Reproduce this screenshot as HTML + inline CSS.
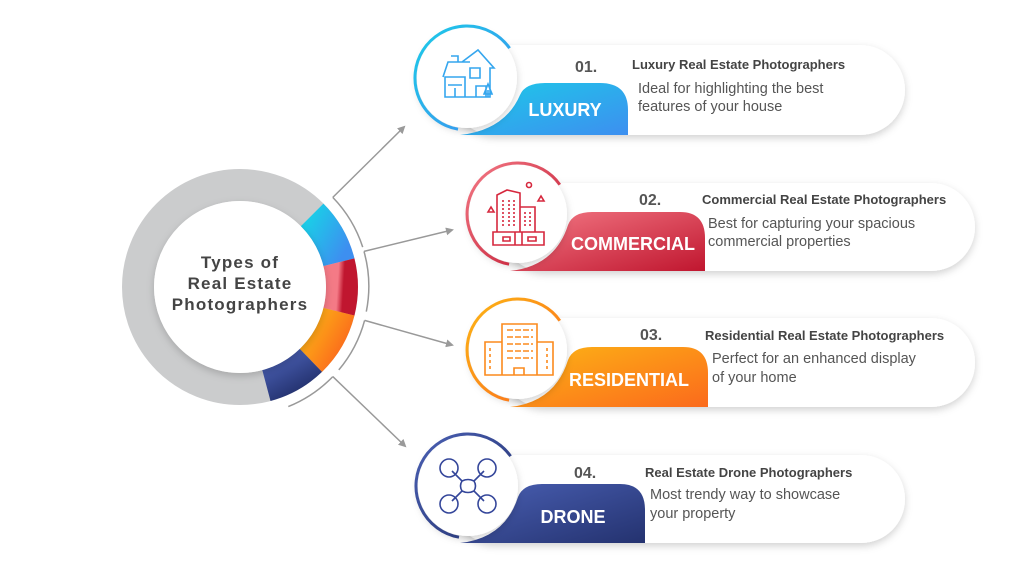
<!DOCTYPE html>
<html><head><meta charset="utf-8"><style>
html,body{margin:0;padding:0;background:#fff;width:1024px;height:576px;overflow:hidden}
svg{display:block}
text{font-family:"Liberation Sans",sans-serif}
</style></head><body>
<svg width="1024" height="576" viewBox="0 0 1024 576" xmlns="http://www.w3.org/2000/svg">
<defs>
<linearGradient id="gc" x1="0" y1="0" x2="1" y2="1"><stop offset="0" stop-color="#1ccbe8"/><stop offset="1" stop-color="#3d8ff0"/></linearGradient>
<linearGradient id="gr" x1="0" y1="0" x2="1" y2="1"><stop offset="0" stop-color="#f47a86"/><stop offset="1" stop-color="#c0162f"/></linearGradient>
<linearGradient id="go" x1="0" y1="0" x2="1" y2="1"><stop offset="0" stop-color="#fdb515"/><stop offset="1" stop-color="#fb6a1c"/></linearGradient>
<linearGradient id="gn" x1="0" y1="0" x2="1" y2="1"><stop offset="0" stop-color="#4a60b4"/><stop offset="1" stop-color="#24326f"/></linearGradient>
<filter id="sh" x="-20%" y="-30%" width="140%" height="170%"><feDropShadow dx="0" dy="3" stdDeviation="4" flood-color="#000" flood-opacity="0.18"/></filter>
<marker id="ar" markerWidth="8" markerHeight="8" refX="6" refY="4" orient="auto" markerUnits="userSpaceOnUse"><path d="M0,0 L8,4 L0,8 z" fill="#9a9a9a"/></marker>
</defs>

<!-- ring -->
<circle cx="240" cy="287" r="102" fill="none" stroke="#cbcccd" stroke-width="32"/>
<g fill="none" stroke-width="32">
<path d="M312.1,214.9 A102,102 0 0 1 338.9,262.3" stroke="url(#gc)"/>
<path d="M338.9,262.3 A102,102 0 0 1 338.9,311.7" stroke="url(#gr)"/>
<path d="M338.9,311.7 A102,102 0 0 1 310.9,360.4" stroke="url(#go)"/>
<path d="M310.9,360.4 A102,102 0 0 1 266.4,385.5" stroke="url(#gn)"/>
</g>
<circle cx="240" cy="287" r="86" fill="#fff" filter="url(#sh)"/>
<text x="240" y="268" text-anchor="middle" font-size="17" font-weight="bold" fill="#444" letter-spacing="1.2">Types of</text>
<text x="240" y="289" text-anchor="middle" font-size="17" font-weight="bold" fill="#444" letter-spacing="1.2">Real Estate</text>
<text x="240" y="310" text-anchor="middle" font-size="17" font-weight="bold" fill="#444" letter-spacing="1.2">Photographers</text>

<!-- outer arcs -->
<g fill="none" stroke="#999" stroke-width="1.5">
<path d="M332.8,197.4 A129,129 0 0 1 362.7,247.1"/>
<path d="M364,251.4 A129,129 0 0 1 366.3,311.6"/>
<path d="M364.6,320.4 A129,129 0 0 1 338.8,369.9"/>
<path d="M332.8,376.6 A129,129 0 0 1 288.3,406.6"/>
<line x1="332.8" y1="197.4" x2="404" y2="127" marker-end="url(#ar)"/>
<line x1="364" y1="251.4" x2="452" y2="230" marker-end="url(#ar)"/>
<line x1="364.6" y1="320.4" x2="452" y2="345" marker-end="url(#ar)"/>
<line x1="332.8" y1="376.6" x2="405" y2="446" marker-end="url(#ar)"/>
</g>

<!-- cards -->
<g filter="url(#sh)" fill="#fff">
<rect x="450" y="45" width="455" height="90" rx="45"/>
<rect x="500" y="183" width="475" height="88" rx="44"/>
<rect x="500" y="318" width="475" height="89" rx="44"/>
<rect x="450" y="455" width="455" height="88" rx="44"/>
</g>
<!-- tabs -->
<path d="M460,135 Q505,130 520,95 Q525,83 545,83 L600,83 Q628,83 628,110 L628,135 Z" fill="url(#gc)"/>
<path d="M510,271 Q555,266 568,225 Q573,212 592,212 L680,212 Q705,212 705,238 L705,271 Z" fill="url(#gr)"/>
<path d="M510,407 Q555,402 568,360 Q573,347 592,347 L683,347 Q708,347 708,373 L708,407 Z" fill="url(#go)"/>
<path d="M460,543 Q505,538 518,497 Q523,484 542,484 L620,484 Q645,484 645,510 L645,543 Z" fill="url(#gn)"/>

<!-- circles -->
<g filter="url(#sh)" fill="#fff">
<circle cx="467" cy="78" r="50"/>
<circle cx="518" cy="214" r="49"/>
<circle cx="518" cy="350" r="49"/>
<circle cx="468" cy="486" r="50"/>
</g>
<g fill="none" stroke-width="3">
<path d="M509.6,48.2 A52,52 0 1 0 458,129.2" stroke="url(#gc)"/>
<path d="M559.8,184.7 A51,51 0 1 0 509.1,264.2" stroke="url(#gr)"/>
<path d="M559.8,320.7 A51,51 0 1 0 509.1,400.2" stroke="url(#go)"/>
<path d="M510.6,456.2 A52,52 0 1 0 459,537.2" stroke="url(#gn)"/>
</g>

<!-- icons -->
<g fill="none" stroke="#35a6ee" stroke-width="1.6">
<path d="M445,77 L465,77 L465,97 L445,97 Z M443,77 L448,62 L470,62 M462,62 L478,50 L494,68 L490,68 L490,97 L465,97 M451,56 L458,56 L458,62 M470,68 L480,68 L480,78 L470,78 Z M448,85 L462,85 M455,88 L455,97 M476,86 L486,86 L486,97 L476,97 Z M488,97 L488,90 M484,94 L488,84 L492,94 Z"/>
</g>
<g fill="none" stroke="#d6283e" stroke-width="1.6">
<path d="M497,195 L507,190 L520,193 L520,232 L497,232 Z M520,207 L535,207 L535,232 M493,232 L544,232 L544,245 L493,245 Z M503,237 L510,237 L510,241 L503,241 Z M528,237 L536,237 L536,241 L528,241 Z M515,232 L515,245 M522,232 L522,245 M488,212 L491,207 L494,212 Z M538,201 L541,196 L544,201 Z"/>
<circle cx="529" cy="185" r="2.5"/>
<path d="M503,200 v26 M509,200 v26 M514,200 v26 M525,212 v14 M530,212 v14" stroke-dasharray="2 2"/>
</g>
<g fill="none" stroke="#fb8a1d" stroke-width="1.6">
<path d="M502,324 L537,324 L537,375 L502,375 Z M485,342 L502,342 L502,375 L485,375 Z M537,342 L553,342 L553,375 L537,375 Z M514,368 L524,368 L524,375 L514,375 Z"/>
<path d="M507,330 h26 M507,337 h26 M507,344 h26 M507,351 h26 M507,358 h26" stroke-dasharray="6 2"/>
<path d="M490,348 v24 M547,348 v24" stroke-dasharray="3 3"/>
</g>
<g fill="none" stroke="#34469a" stroke-width="1.6">
<circle cx="449" cy="468" r="9"/><circle cx="487" cy="468" r="9"/>
<circle cx="449" cy="504" r="9"/><circle cx="487" cy="504" r="9"/>
<path d="M452,471 L462,481 Q468,478 474,481 L484,471 M452,501 L462,491 Q468,494 474,491 L484,501 M462,481 Q459,486 462,491 M474,481 Q477,486 474,491"/>
</g>

<!-- tab labels -->
<g fill="#fff" font-weight="bold" font-size="18" text-anchor="middle">
<text x="565" y="116">LUXURY</text>
<text x="633" y="250">COMMERCIAL</text>
<text x="629" y="386">RESIDENTIAL</text>
<text x="573" y="523">DRONE</text>
</g>
<!-- numbers & titles -->
<g fill="#555" font-weight="bold" font-size="16">
<text x="575" y="72">01.</text>
<text x="639" y="205">02.</text>
<text x="640" y="340">03.</text>
<text x="574" y="478">04.</text>
</g>
<g fill="#444" font-weight="bold" font-size="13">
<text x="632" y="69">Luxury Real Estate Photographers</text>
<text x="702" y="204">Commercial Real Estate Photographers</text>
<text x="705" y="340">Residential Real Estate Photographers</text>
<text x="645" y="477">Real Estate Drone Photographers</text>
</g>
<g fill="#555" font-size="14.5">
<text x="638" y="93">Ideal for highlighting the best</text>
<text x="638" y="111">features of your house</text>
<text x="708" y="228">Best for capturing your spacious</text>
<text x="708" y="246">commercial properties</text>
<text x="712" y="363">Perfect for an enhanced display</text>
<text x="712" y="382">of your home</text>
<text x="650" y="499">Most trendy way to showcase</text>
<text x="650" y="518">your property</text>
</g>
</svg>
</body></html>
